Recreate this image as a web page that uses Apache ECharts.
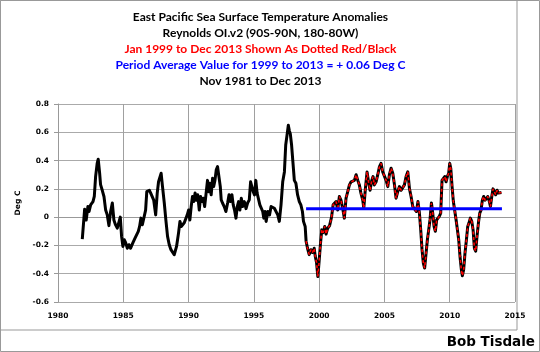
<!DOCTYPE html>
<html>
<head>
<meta charset="utf-8">
<script src="https://cdn.jsdelivr.net/npm/echarts@6/dist/echarts.min.js"></script>
<style>
html,body{margin:0;padding:0;background:#fff;}
#c{width:540px;height:352px;}
</style>
</head>
<body>
<div id="c"></div>
<script>
// Decimal years (Nov 1981 .. Dec 2013) and anomalies (Deg C)
const years = [
1981.86,1982.04,1982.16,1982.29,1982.38,1982.5,1982.6,1982.68,1982.78,1982.88,
1983.0,1983.08,1983.19,1983.26,1983.39,1983.52,1983.65,1983.77,1983.9,1984.03,
1984.16,1984.28,1984.41,1984.54,1984.67,1984.77,1984.87,1984.97,1985.08,1985.18,
1985.31,1985.43,1985.56,1985.74,1985.9,1986.0,1986.15,1986.25,1986.35,1986.46,
1986.58,1986.71,1986.8,1986.9,1987.0,1987.1,1987.2,1987.33,1987.48,1987.6,
1987.7,1987.78,1987.9,1988.0,1988.14,1988.26,1988.39,1988.52,1988.65,1988.77,
1988.9,1988.98,1989.08,1989.15,1989.23,1989.34,1989.44,1989.54,1989.67,1989.8,
1989.9,1990.0,1990.1,1990.2,1990.3,1990.4,1990.5,1990.6,1990.7,1990.82,
1990.92,1991.0,1991.12,1991.23,1991.33,1991.45,1991.53,1991.63,1991.73,1991.84,
1991.92,1992.02,1992.12,1992.22,1992.32,1992.43,1992.5,1992.6,1992.73,1992.86,
1992.99,1993.1,1993.22,1993.32,1993.42,1993.52,1993.63,1993.73,1993.83,1993.93,
1994.04,1994.14,1994.27,1994.4,1994.52,1994.65,1994.75,1994.85,1994.95,1995.05,
1995.15,1995.25,1995.36,1995.46,1995.56,1995.68,1995.76,1995.86,1995.94,1996.07,
1996.2,1996.32,1996.45,1996.57,1996.7,1996.83,1996.95,1997.08,1997.21,1997.34,
1997.44,1997.54,1997.64,1997.72,1997.79,1997.89,1997.99,1998.1,1998.22,1998.35,
1998.48,1998.6,1998.72,1998.8,1998.93,1999.0,1999.11,1999.24,1999.37,1999.49,
1999.62,1999.7,1999.8,1999.9,2000.0,2000.1,2000.2,2000.3,2000.43,2000.53,
2000.65,2000.8,2000.95,2001.07,2001.17,2001.3,2001.42,2001.55,2001.67,2001.8,
2001.93,2002.06,2002.19,2002.32,2002.45,2002.57,2002.7,2002.83,2002.96,2003.08,
2003.2,2003.34,2003.42,2003.54,2003.67,2003.8,2003.9,2004.03,2004.13,2004.23,
2004.36,2004.49,2004.62,2004.74,2004.87,2005.0,2005.13,2005.26,2005.38,2005.51,
2005.64,2005.77,2005.89,2006.02,2006.15,2006.28,2006.4,2006.53,2006.66,2006.79,
2006.92,2007.04,2007.17,2007.3,2007.45,2007.57,2007.68,2007.78,2007.88,2007.98,
2008.08,2008.19,2008.29,2008.39,2008.49,2008.6,2008.7,2008.8,2008.9,2009.0,
2009.1,2009.2,2009.31,2009.41,2009.51,2009.62,2009.72,2009.82,2009.92,2010.0,
2010.08,2010.18,2010.28,2010.38,2010.49,2010.59,2010.69,2010.79,2010.89,2010.97,
2011.07,2011.17,2011.28,2011.38,2011.48,2011.58,2011.69,2011.79,2011.89,2011.99,
2012.09,2012.2,2012.3,2012.4,2012.5,2012.6,2012.71,2012.81,2012.91,2013.01,
2013.12,2013.22,2013.32,2013.42,2013.52,2013.63,2013.73,2013.83,2013.96
];
const anomalies = [
-0.155,0.056,-0.02,0.075,0.04,0.087,0.087,0.11,0.146,0.287,
0.38,0.41,0.31,0.23,0.19,0.146,0.05,0.016,-0.06,0.04,
0.1,-0.02,-0.055,-0.078,-0.09,0.0,-0.136,-0.207,-0.16,-0.18,
-0.22,-0.195,-0.22,-0.18,-0.148,-0.16,-0.1,-0.066,-0.007,-0.054,
-0.04,0.05,0.18,0.17,0.19,0.17,0.18,0.12,0.016,0.17,
0.25,0.24,0.31,0.22,0.1,-0.02,-0.136,-0.195,-0.23,-0.24,
-0.266,-0.278,-0.207,-0.22,-0.113,-0.03,-0.066,-0.054,-0.04,-0.03,
0.016,0.05,-0.02,0.075,0.146,0.11,0.17,0.12,0.158,0.05,
0.146,0.11,0.134,0.075,0.158,0.26,0.18,0.24,0.158,0.275,
0.216,0.26,0.334,0.357,0.357,0.216,0.122,0.1,0.075,0.04,
0.1,0.158,0.11,0.158,0.087,0.05,-0.007,0.075,0.11,0.05,
0.134,0.075,0.11,0.06,0.1,0.122,0.25,0.26,0.18,0.157,
0.26,0.17,0.157,0.087,0.1,0.04,-0.007,0.04,-0.03,0.04,
0.016,0.075,0.087,0.063,0.063,0.016,-0.03,0.087,0.25,0.32,
0.51,0.58,0.65,0.61,0.59,0.51,0.39,0.26,0.24,0.157,
0.11,0.087,0.04,-0.03,-0.066,-0.17,-0.22,-0.265,-0.23,-0.25,
-0.22,-0.276,-0.32,-0.42,-0.31,-0.19,-0.09,-0.11,-0.066,-0.12,
-0.08,-0.06,0.0,0.087,0.087,0.11,0.05,0.146,0.12,0.064,
-0.007,0.134,0.18,0.228,0.25,0.24,0.26,0.3,0.26,0.228,
0.17,0.12,0.064,0.2,0.32,0.24,0.19,0.26,0.287,0.228,
0.25,0.3,0.357,0.38,0.32,0.31,0.26,0.216,0.3,0.346,
0.31,0.228,0.134,0.18,0.216,0.19,0.2,0.228,0.287,0.32,
0.2,0.146,0.075,0.087,0.04,0.11,0.028,-0.09,-0.23,-0.325,
-0.36,-0.254,-0.16,-0.09,-0.02,0.1,0.028,-0.066,-0.1,-0.02,
-0.007,0.005,0.028,0.26,0.26,0.287,0.25,0.287,0.31,0.38,
0.346,0.216,0.11,0.1,-0.02,-0.09,-0.16,-0.28,-0.37,-0.414,
-0.37,-0.254,-0.16,-0.066,-0.04,-0.007,-0.03,-0.09,-0.22,-0.24,
-0.136,-0.04,0.028,0.05,0.12,0.146,0.12,0.134,0.146,0.12,
0.075,0.146,0.2,0.18,0.158,0.19,0.17,0.18,0.174
];
const periodStart = 1999;
const periodEnd = 2014;
const periodAverage = 0.06;
const xTicks = [1980, 1985, 1990, 1995, 2000, 2005, 2010, 2015];
const yTicks = [-0.6, -0.4, -0.2, 0, 0.2, 0.4, 0.6, 0.8];
const titleLines = [
  {text: 'East Pacific Sea Surface Temperature Anomalies', color: '#000000'},
  {text: 'Reynolds OI.v2 (90S-90N, 180-80W)', color: '#000000'},
  {text: 'Jan 1999 to Dec 2013 Shown As Dotted Red/Black', color: '#ff0000'},
  {text: 'Period Average Value for 1999 to 2013 = + 0.06 Deg C', color: '#0000ff'},
  {text: 'Nov 1981 to Dec 2013', color: '#000000'}
];

const full = years.map((y, i) => [y, anomalies[i]]);
const recent = full.filter(p => p[0] >= periodStart);
const avgLine = [[periodStart, periodAverage], [periodEnd, periodAverage]];

const chart = echarts.init(document.getElementById('c'), null, {renderer: 'canvas'});
const lblFont = {fontFamily: 'DejaVu Sans', fontWeight: 'bold', fontSize: 7.5, color: '#000'};
const titleGraphics = titleLines.map((t, i) => ({
  type: 'text', x: 260.5, y: 16.7 + i * 16.15, z: 10,
  style: {text: t.text, fill: t.color, font: 'bold 12px Lato', textAlign: 'center', textVerticalAlign: 'middle'}
}));

chart.setOption({
  animation: false,
  backgroundColor: '#ffffff',
  grid: {left: 58, top: 104, width: 457, height: 198, containLabel: false},
  xAxis: {
    type: 'value', min: 1980, max: 2015, interval: 5,
    axisLine: {show: true, lineStyle: {color: '#999999', width: 1}},
    axisTick: {show: true, length: 4, lineStyle: {color: '#999999'}},
    axisLabel: Object.assign({margin: 10, formatter: v => String(v)}, lblFont),
    splitLine: {show: true, lineStyle: {color: '#a0a0a0', width: 1}}
  },
  yAxis: {
    type: 'value', min: -0.6, max: 0.8, interval: 0.2,
    name: 'Deg C', nameLocation: 'middle', nameGap: 30, nameRotate: 90,
    nameTextStyle: {fontFamily: 'DejaVu Sans', fontWeight: 'bold', fontSize: 7.5, color: '#000'},
    axisLine: {show: true, lineStyle: {color: '#999999', width: 1}},
    axisTick: {show: true, length: 4, lineStyle: {color: '#999999'}},
    axisLabel: Object.assign({margin: 9, formatter: v => String(Math.round(v * 10) / 10)}, lblFont),
    splitLine: {show: true, lineStyle: {color: '#aaaaaa', width: 1}}
  },
  series: [
    {type: 'line', data: full, showSymbol: false, symbol: 'none',
     lineStyle: {color: '#000000', width: 3, join: 'round'}, z: 2},
    {type: 'line', data: recent, showSymbol: false, symbol: 'none',
     lineStyle: {color: '#ff0000', width: 1.6, type: [3, 2.5]}, z: 3},
    {type: 'line', data: avgLine, showSymbol: false, symbol: 'none',
     lineStyle: {color: '#0000ff', width: 3}, z: 4}
  ],
  graphic: titleGraphics.concat([
    {type: 'text', x: 535, y: 342, z: 10,
     style: {text: 'Bob Tisdale', fill: '#000', font: 'bold 13.5px "DejaVu Sans"', textAlign: 'right', textVerticalAlign: 'middle'}},
    {type: 'rect', shape: {x: 0.5, y: 0.5, width: 516.5, height: 329.5}, z: 0,
     style: {fill: 'none', stroke: '#999999', lineWidth: 1}},
    {type: 'rect', shape: {x: 0.5, y: 0.5, width: 539, height: 351}, z: 0,
     style: {fill: 'none', stroke: '#999999', lineWidth: 1}}
  ])
});
</script>
</body>
</html>
